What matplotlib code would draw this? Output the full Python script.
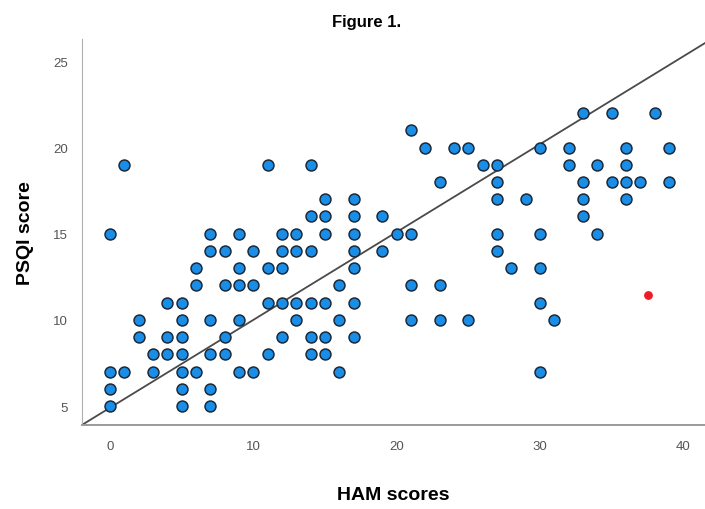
import matplotlib.pyplot as plt

# HAM score (x) and PSQI score (y) of every subject, row by row
ham = [33, 35, 38,
       21,
       22, 24, 25, 30, 32, 36, 39,
       1, 11, 14, 26, 27, 32, 34, 36,
       23, 27, 33, 35, 36, 37, 39,
       15, 17, 27, 29, 33, 36,
       14, 15, 17, 19, 33,
       0, 7, 9, 12, 13, 15, 17, 20, 21, 27, 30, 34,
       7, 8, 10, 12, 13, 14, 17, 19, 27,
       6, 9, 11, 12, 17, 28, 30,
       6, 8, 9, 10, 16, 21, 23,
       4, 5, 11, 12, 13, 14, 15, 17, 30,
       2, 5, 7, 9, 13, 16, 21, 23, 25, 31,
       2, 4, 5, 8, 12, 14, 15, 17,
       3, 4, 5, 7, 8, 11, 14, 15,
       0, 1, 3, 5, 6, 9, 10, 16, 30,
       0, 5, 7,
       0, 5, 7]
psqi = [22, 22, 22,
        21,
        20, 20, 20, 20, 20, 20, 20,
        19, 19, 19, 19, 19, 19, 19, 19,
        18, 18, 18, 18, 18, 18, 18,
        17, 17, 17, 17, 17, 17,
        16, 16, 16, 16, 16,
        15, 15, 15, 15, 15, 15, 15, 15, 15, 15, 15, 15,
        14, 14, 14, 14, 14, 14, 14, 14, 14,
        13, 13, 13, 13, 13, 13, 13,
        12, 12, 12, 12, 12, 12, 12,
        11, 11, 11, 11, 11, 11, 11, 11, 11,
        10, 10, 10, 10, 10, 10, 10, 10, 10, 10,
        9, 9, 9, 9, 9, 9, 9, 9,
        8, 8, 8, 8, 8, 8, 8, 8,
        7, 7, 7, 7, 7, 7, 7, 7, 7,
        6, 6, 6,
        5, 5, 5]

# single highlighted point (red)
red_x = [37.5]
red_y = [11.45]

# fit line
intercept = 4.9
slope = 0.51

x_ticks = [0, 10, 20, 30, 40]
y_ticks = [5, 10, 15, 20, 25]

font = ['Liberation Sans', 'DejaVu Sans']

fig = plt.figure(figsize=(7.05, 5.1), dpi=100)
ax = fig.add_axes([82/705, 84/510, 623/705, 386/510])

xmin, xmax = -1.95, 41.5
ax.plot([xmin, xmax], [intercept + slope*xmin, intercept + slope*xmax],
        color='#4a4a4a', lw=1.3, zorder=2)

ax.scatter(ham, psqi, s=62, color='#1a8ee6', edgecolors='#1b2a3a',
           linewidths=1.1, zorder=3)
ax.scatter(red_x, red_y, s=28, color='#ee1c24', zorder=3)

ax.set_xlim(xmin, xmax)
ax.set_ylim(3.9, 26.3)

for side in ['top', 'right']:
    ax.spines[side].set_visible(False)
ax.spines['left'].set_color('#b0b0b0')
ax.spines['bottom'].set_color('#9a9a9a')
ax.spines['bottom'].set_linewidth(1.4)

ax.set_xticks(x_ticks)
ax.set_yticks(y_ticks)
ax.tick_params(axis='both', length=0, labelsize=9.5, labelcolor='#555555')
ax.tick_params(axis='x', pad=11)
ax.tick_params(axis='y', pad=10)
for lab in ax.get_xticklabels() + ax.get_yticklabels():
    lab.set_family(font)

ax.set_xlabel('HAM scores', fontsize=14, fontweight='bold', family=font,
              labelpad=24)
ax.set_ylabel('PSQI score', fontsize=14, fontweight='bold', family=font,
              labelpad=14)
fig.text(367/705, 1 - 23/510, 'Figure 1.', fontsize=12, fontweight='bold',
         family=font, ha='center', va='center')

plt.savefig('out.png', dpi=100)
